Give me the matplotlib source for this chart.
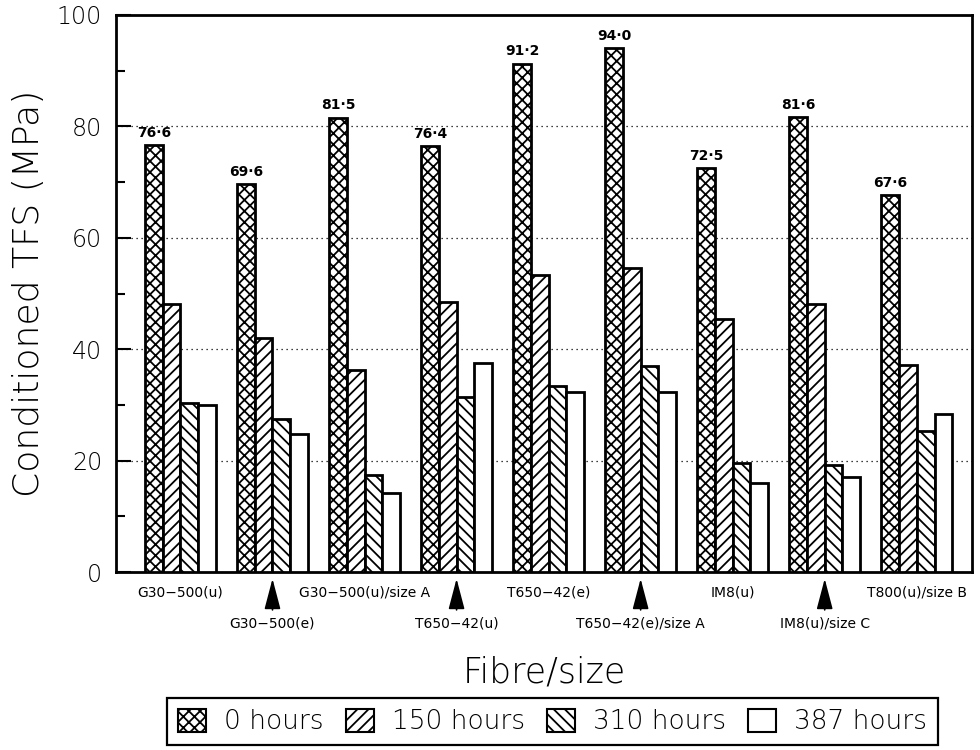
import numpy as np
import matplotlib
matplotlib.use('Agg')
import matplotlib.pyplot as plt
from matplotlib.patches import Patch

# data
fibres = ['G30-500(u)', 'G30-500(e)', 'G30-500(u)/size A', 'T650-42(u)',
          'T650-42(e)', 'T650-42(e)/size A', 'IM8(u)', 'IM8(u)/size C',
          'T800(u)/size B']
h0 = [76.6, 69.6, 81.5, 76.4, 91.2, 94.0, 72.5, 81.6, 67.6]
h150 = [48.2, 42.0, 36.2, 48.4, 53.4, 54.6, 45.4, 48.2, 37.2]
h310 = [30.4, 27.4, 17.5, 31.5, 33.4, 37.0, 19.6, 19.3, 25.3]
h387 = [29.9, 24.8, 14.1, 37.5, 32.4, 32.4, 16.0, 17.1, 28.3]
val_labels = ['76·6', '69·6', '81·5', '76·4', '91·2', '94·0', '72·5', '81·6', '67·6']
series_names = ['0 hours', '150 hours', '310 hours', '387 hours']

plt.rcParams['font.family'] = 'DejaVu Sans'
plt.rcParams['hatch.linewidth'] = 1.3

fig = plt.figure(figsize=(9.8, 7.5), dpi=100)
ax = fig.add_axes([0.1184, 0.2373, 0.8734, 0.7427])

x = np.arange(len(fibres))
w = 0.193
hatches = ['xxx', '///', '\\\\\\', '']
series = [h0, h150, h310, h387]
for k, (vals, hat) in enumerate(zip(series, hatches)):
    ax.bar(x + (k - 1.5) * w, vals, width=w, facecolor='white', edgecolor='black',
           hatch=hat, linewidth=2.0, zorder=3)

for i in range(len(fibres)):
    ax.text(x[i] - 1.5 * w, h0[i] + 1.0, val_labels[i], ha='center', va='bottom',
            fontsize=10, fontweight='bold')

ax.set_xlim(-0.70, 8.60)
ax.set_ylim(0, 100)
ax.set_yticks(range(0, 101, 20))
ax.set_yticks(range(10, 100, 20), minor=True)
ax.tick_params(axis='y', which='major', direction='in', length=11, width=1.5,
               labelsize=17, pad=10)
ax.tick_params(axis='y', which='minor', direction='in', length=6.5, width=1.5)
ax.set_xticks([])
for lab in ax.get_yticklabels():
    lab.set_fontweight('light')
for s in ax.spines.values():
    s.set_linewidth(2.0)

ax.yaxis.grid(True, which='major', linestyle=(0, (1, 3)), color='black', linewidth=0.9)
ax.set_axisbelow(True)

ax.set_ylabel('Conditioned TFS (MPa)', fontsize=26, fontweight='light', labelpad=8)
ax.set_xlabel('Fibre/size', fontsize=25, fontweight='light', labelpad=60)

# category labels: alternate rows, with arrows for the lower row
trans = ax.get_xaxis_transform()
for i, name in enumerate(fibres):
    lab = name.replace('-', '\u2212')
    if i % 2 == 0:
        ax.text(x[i], -0.036, lab, transform=trans, ha='center', va='center', fontsize=10)
    else:
        ax.text(x[i], -0.092, lab, transform=trans, ha='center', va='center', fontsize=10)
        ax.annotate('', xy=(x[i], -0.012), xytext=(x[i], -0.068), xycoords=trans,
                    textcoords=trans, annotation_clip=False,
                    arrowprops=dict(arrowstyle='-|>,head_length=1.9,head_width=0.5',
                                    color='black', lw=1.2, shrinkA=0, shrinkB=0))

handles = [Patch(facecolor='white', edgecolor='black', hatch=h, linewidth=1.5)
           for h in hatches]
leg = fig.legend(handles, series_names, loc='lower center', ncol=4,
                 bbox_to_anchor=(0.5638, 0.007), borderaxespad=0, fontsize=19,
                 frameon=True, fancybox=False, edgecolor='black', framealpha=1,
                 handlelength=1.06, handleheight=0.95, handletextpad=0.68,
                 columnspacing=0.85, borderpad=0.4)
leg.get_frame().set_linewidth(1.6)
for t in leg.get_texts():
    t.set_fontweight('light')

fig.savefig('out.png', dpi=100)
